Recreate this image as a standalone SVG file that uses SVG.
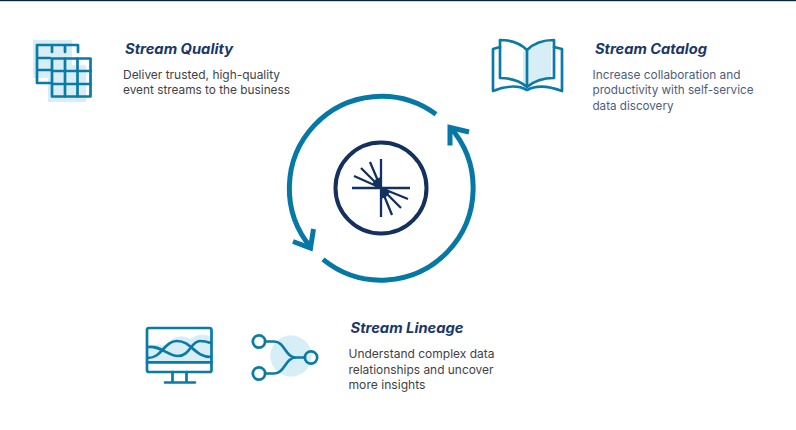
<svg xmlns="http://www.w3.org/2000/svg" width="796" height="430" viewBox="0 0 796 430">
<style>
.i{fill:none;stroke:#0b7aa6;stroke-width:2.7;stroke-linecap:round;stroke-linejoin:round}
.l{fill:#d8eef6;stroke:none}
.h{font:italic 700 14px Inter,"Liberation Sans",sans-serif;fill:#1b3768}
.b{font:400 12px Inter,"Liberation Sans",sans-serif;fill:#3f4147}
.c{fill:#4d5c80}
.ring{fill:none;stroke:#0578a5;stroke-width:5}
.logo{fill:none;stroke:#14305f;stroke-width:2.300}
</style>
<rect width="796" height="430" fill="#fff"/>
<rect width="796" height="1.2" fill="#08263a"/>
<g id="connectors">
<path class="ring" d="M436 114.300A92 92 0 0 0 311 247.600"/>
<path class="ring" d="M323 259.400A92 92 0 0 0 450.100 127.200"/>
<path class="ring" d="M469 132L450 127.500L450 145.500"/>
<path class="ring" d="M293 241.500L310.500 248L313.500 229"/>
</g>
<g id="hub">
<circle cx="381" cy="188" r="45.500" fill="none" stroke="#14305f" stroke-width="4"/>
<path class="logo" d="M381 159V217M352 188H410M370 162L381 188M361 168L381 188M354 176L381 188M392 215L381 188M401 208L381 188M408 199L381 188"/>
<path d="M372 184L376 179L381 177V188ZM390 192L386 197L381 199V188Z" fill="#14305f"/>
</g>
<g id="quality">
<rect class="l" x="33" y="40" width="39" height="38"/>
<path class="l" d="M48 59H67V65H86V102H48Z"/>
<path class="i" d="M78 52V45H37V83H50M37 58H50M37 70H52M52 45V52M65 45V52"/>
<rect class="i" x="52" y="58.500" width="38.500" height="38"/>
<path class="i" d="M52 71H90.500M52 84H90.500M65 58.500V96.500M77.500 58.500V96.500"/>
<text class="h" x="125" y="53.500" textLength="108" lengthAdjust="spacingAndGlyphs">Stream Quality</text>
<text class="b" x="123" y="79" textLength="157" lengthAdjust="spacingAndGlyphs">Deliver trusted, high-quality</text>
<text class="b" x="123" y="94" textLength="167" lengthAdjust="spacingAndGlyphs">event streams to the business</text>
</g>
<g id="catalog">
<path class="l" d="M523 52C531 45 541 42 551 42V78C541 79 533 81 527 86H523Z"/>
<path class="i" d="M527 50C520 43 509 40 500 40V78C510 78 520 81 527 87C534 81 544 78 554 78V40C545 40 534 43 527 50V87"/>
<path class="i" d="M500 47L493 49V91C505 86 518 85 527 90C536 85 549 86 562 91V49L554 47"/>
<text class="h" x="595" y="53.500" textLength="112" lengthAdjust="spacingAndGlyphs">Stream Catalog</text>
<text class="b c" x="592.500" y="79" textLength="148" lengthAdjust="spacingAndGlyphs">Increase collaboration and</text>
<text class="b c" x="592.500" y="94" textLength="161" lengthAdjust="spacingAndGlyphs">productivity with self-service</text>
<text class="b c" x="592.500" y="110" textLength="81" lengthAdjust="spacingAndGlyphs">data discovery</text>
</g>
<g id="lineage">
<path class="l" d="M148 346C154 344 162 344 166 346C170 338 182 333 190 339C195 335 205 333 211 337V362H148Z"/>
<rect class="i" x="147" y="328" width="64.500" height="44" rx="2"/>
<path class="i" d="M147 362.300H211.500M172.500 372V382M186.500 372V382M165 382.500H195"/>
<path class="i" d="M148 358C162 358 164 341 177 341C192 341 194 357 211 357"/>
<path class="i" d="M148 347C160 345 168 356 178 356C190 356 191 341 200 341C205 341 208 342 211 343"/>
<circle class="l" cx="291" cy="356" r="20.700"/>
<circle class="i" cx="259" cy="341.500" r="6.200"/>
<circle class="i" cx="259" cy="373.500" r="6.200"/>
<circle class="i" cx="311" cy="357.500" r="6.200"/>
<path class="i" d="M265 341.500H274C285 341.500 285 357.500 296 357.500H305M265 373.500H274C285 373.500 285 357.500 296 357.500"/>
<text class="h" x="350.500" y="332.500" textLength="113" lengthAdjust="spacingAndGlyphs">Stream Lineage</text>
<text class="b" x="348.500" y="358" textLength="146" lengthAdjust="spacingAndGlyphs">Understand complex data</text>
<text class="b" x="348.500" y="373.500" textLength="145" lengthAdjust="spacingAndGlyphs">relationships and uncover</text>
<text class="b" x="348.500" y="389" textLength="77" lengthAdjust="spacingAndGlyphs">more insights</text>
</g>
</svg>
